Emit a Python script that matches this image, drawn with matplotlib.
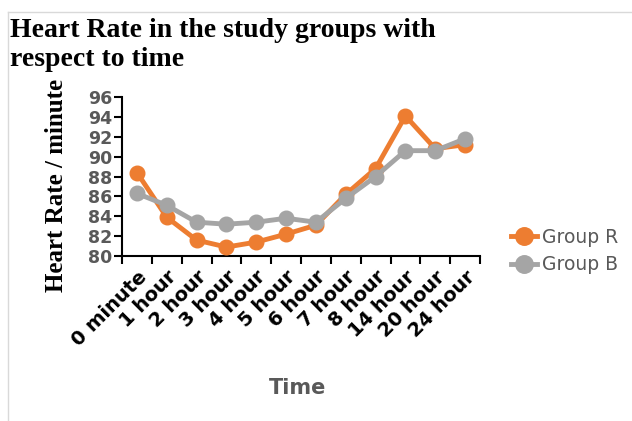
import numpy as np
import matplotlib.pyplot as plt
from matplotlib.lines import Line2D

# data
times = ["0 minute", "1 hour", "2 hour", "3 hour", "4 hour", "5 hour",
         "6 hour", "7 hour", "8 hour", "14 hour", "20 hour", "24 hour"]
group_r = [88.4, 83.9, 81.6, 80.9, 81.4, 82.2, 83.1, 86.2, 88.8, 94.1, 90.8, 91.2]
group_b = [86.3, 85.1, 83.4, 83.2, 83.4, 83.8, 83.4, 85.8, 88.0, 90.6, 90.6, 91.8]
y_ticks = [80, 82, 84, 86, 88, 90, 92, 94, 96]

fig = plt.figure(figsize=(6.32, 4.21), dpi=100)
ax = fig.add_axes([122/632, 1 - 256/421, (480-122)/632, (256-97)/421])

x = np.arange(len(times))
ax.plot(x, group_r, color="#ED7D31", lw=3.5, marker="o", ms=10.5, label="Group R", zorder=3)
ax.plot(x, group_b, color="#A5A5A5", lw=3.5, marker="o", ms=10.5, label="Group B", zorder=4)

ax.set_xlim(-0.5, len(times) - 0.5)
ax.set_ylim(80, 96)
ax.set_xticks(np.arange(-0.5, len(times)), labels=[])
ax.set_xticks(x, minor=True)
ax.set_xticklabels(times, minor=True, rotation=45, ha="right", rotation_mode="anchor",
                   fontsize=14, fontweight="bold", color="black")
ax.tick_params(axis="x", which="major", length=6, width=1.5, direction="out")
ax.tick_params(axis="x", which="minor", length=0, pad=8)
ax.set_yticks(y_ticks)
ax.set_yticklabels([str(v) for v in y_ticks], fontsize=12.5, fontweight="bold", color="#595959")
ax.tick_params(axis="y", length=6, width=1.5, pad=1)

for s in ["top", "right"]:
    ax.spines[s].set_visible(False)
for s in ["left", "bottom"]:
    ax.spines[s].set_linewidth(1.5)

fig.text(10/632, 1 - 45/421, "Heart Rate in the study groups with\nrespect to time",
         family="Liberation Serif", fontsize=20, fontweight="bold", va="center",
         linespacing=1.2)
fig.text(57/632, 1 - 185/421, "Heart Rate / minute", family="Liberation Serif",
         fontsize=18, fontweight="bold", rotation=90, ha="center", va="center")
fig.text(298/632, 1 - 388/421, "Time", fontsize=15, fontweight="bold",
         color="#595959", ha="center", va="center")

ax.legend(loc="center left", bbox_to_anchor=(494/632, 1 - 251/421),
          bbox_transform=fig.transFigure, frameon=False, fontsize=13.5,
          labelcolor="#595959", handlelength=1.4, handletextpad=0.25,
          labelspacing=0.45, markerscale=1.2)

# light frame of the source image
fig.add_artist(Line2D([8/632, 8/632], [0, 1 - 12/421], transform=fig.transFigure,
                      color="#d9d9d9", lw=1))
fig.add_artist(Line2D([8/632, 1], [1 - 12/421, 1 - 12/421], transform=fig.transFigure,
                      color="#d9d9d9", lw=1))

fig.savefig("out.png", dpi=100)
